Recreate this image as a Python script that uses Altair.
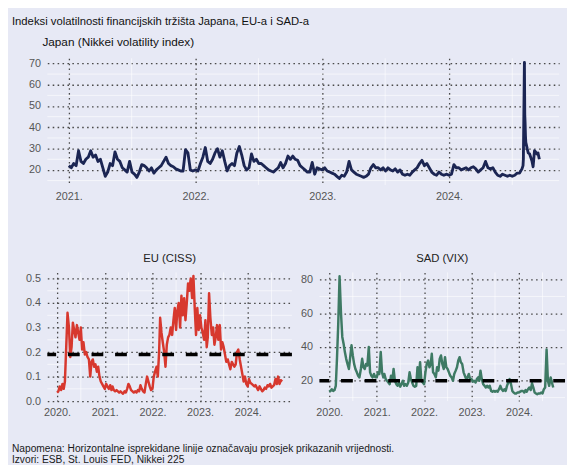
import altair as alt
import pandas as pd

BG = "#E7E9F5"
NAVY = "#1B2553"
RED = "#D7382E"
GREEN = "#3E7A64"
GRID = "#4A4A4A"
LABEL = "#555555"
FONT = "Liberation Sans"

subtitle_text = "Indeksi volatilnosti financijskih tržišta Japana, EU-a i SAD-a"
japan_title = "Japan (Nikkei volatility index)"
eu_title = "EU (CISS)"
vix_title = "SAD (VIX)"
footer_lines = [
    "Napomena: Horizontalne isprekidane linije označavaju prosjek prikazanih vrijednosti.",
    "Izvori: ESB, St. Louis FED, Nikkei 225",
]

# ---- Japan, Nikkei volatility index (weekly readings) ----
jp_2021 = [22, 21, 23, 22, 29, 24, 23, 25, 26, 29, 26, 27, 24, 25, 21, 17, 19, 23, 22, 28.5,
           25, 24, 21, 20, 19, 24, 19, 18, 16.5, 19, 22.5, 22, 21, 19.5, 21, 18.5, 20, 21, 22, 24,
           26, 23, 22, 21.5, 20.5, 20, 19.5, 19.5, 29.5, 28, 20, 19.5]
jp_2022 = [20, 19.5, 23, 26, 30.5, 24, 23, 25, 28, 30, 26, 29, 24, 19.5, 22, 23,
           22, 28, 31, 27, 22, 20, 21, 27.5, 24, 25, 23,
           23, 22, 21, 20, 19.5, 19, 20, 21, 23.5, 21, 23, 26.5, 25, 26.5, 25, 24.5, 22, 21, 20, 19,
           19, 23.5, 18, 21, 20.5]
jp_2023 = [20, 21, 19.5, 19, 18.5, 18, 17, 16, 17.5, 17, 19, 24, 20, 19, 18, 17.5, 17, 16.5, 17, 18,
           21, 22.5, 21, 21, 20, 21, 19.5, 21, 20, 19.5, 20.5, 19, 20, 18, 17.5, 18, 17.5, 19, 20, 21,
           23, 24.5, 22, 23, 21, 19, 18, 17.5, 19, 18, 17.5, 18]
jp_2024 = [17.5, 18, 22.5, 21, 21, 20, 20.5, 21, 20, 21, 21.5, 20.5, 19, 20, 21, 24, 21, 20.5, 21, 19,
           17.5, 17, 18, 17.5, 17, 17.5, 17, 17.5, 18.5, 18.5, 20.5]
jp_aug_dates = ["2024-08-01", "2024-08-02", "2024-08-05", "2024-08-06", "2024-08-07", "2024-08-08",
                "2024-08-09", "2024-08-13", "2024-08-16", "2024-08-20", "2024-08-23", "2024-08-27",
                "2024-08-30", "2024-09-03", "2024-09-06", "2024-09-10", "2024-09-13", "2024-09-17"]
jp_aug_values = [22, 25, 70.5, 46, 42, 36, 33, 30, 28, 27.5, 26, 24, 21.5, 29, 28.5, 27.5, 28, 25]

# ---- EU, CISS (readings on 1st, 11th, 21st of each month) ----
eu_2020 = [0.035, 0.04, 0.06, 0.045, 0.07, 0.05, 0.08, 0.22, 0.36, 0.30, 0.18, 0.22,
           0.32, 0.29, 0.26, 0.31, 0.28, 0.25, 0.30, 0.21, 0.24, 0.19, 0.20, 0.18,
           0.17, 0.10, 0.16, 0.17, 0.14, 0.15, 0.12, 0.14, 0.10, 0.08, 0.07, 0.06]
eu_2021 = [0.05, 0.07, 0.06, 0.05, 0.065, 0.045, 0.06, 0.045, 0.04, 0.045, 0.04, 0.035,
           0.04, 0.035, 0.03, 0.04, 0.035, 0.05, 0.07, 0.06, 0.045, 0.04, 0.035, 0.04,
           0.035, 0.045, 0.04, 0.065, 0.05, 0.04, 0.035, 0.07, 0.10, 0.08, 0.06, 0.045]
eu_2022 = [0.05, 0.10, 0.12, 0.14, 0.10, 0.20, 0.34, 0.28, 0.24, 0.20, 0.14, 0.23,
           0.26, 0.27, 0.30, 0.27, 0.33, 0.38, 0.29, 0.37, 0.40, 0.30, 0.43, 0.35,
           0.42, 0.33, 0.40, 0.48, 0.45, 0.50, 0.42, 0.51, 0.38, 0.27, 0.38, 0.29]
eu_2023 = [0.35, 0.30, 0.28, 0.25, 0.33, 0.22, 0.26, 0.44, 0.34, 0.27, 0.30, 0.23,
           0.26, 0.31, 0.25, 0.31, 0.21, 0.24, 0.22, 0.19, 0.16, 0.17, 0.15, 0.13,
           0.16, 0.15, 0.14, 0.15, 0.20, 0.21, 0.17, 0.14, 0.11, 0.08, 0.10, 0.07]
eu_2024 = [0.06, 0.09, 0.075, 0.07, 0.065, 0.06, 0.065, 0.055, 0.045, 0.06, 0.05, 0.04,
           0.045, 0.055, 0.05, 0.065, 0.06, 0.07, 0.055, 0.06, 0.065, 0.09, 0.07, 0.10,
           0.07, 0.085, 0.08]
eu_mean = 0.19

# ---- USA, VIX (readings on 1st, 11th, 21st of each month) ----
vix_2020 = [13.5, 14, 15, 14, 14.5, 17, 33, 54, 82, 60, 46, 42, 37, 33, 30, 27, 34, 41,
            35, 30, 27, 25, 23, 22, 27, 33, 28, 27, 30, 29, 40, 25, 23, 22, 24, 22]
vix_2021 = [22, 25, 24, 37, 25, 22, 24, 21, 20, 19, 18, 23, 20, 27, 20, 18, 17, 19,
            16.5, 18, 20, 17, 18, 17, 19, 25, 21, 19, 17, 16.5, 17, 28, 21, 31, 20, 19]
vix_2022 = [18, 25, 30, 32, 28, 30, 36, 25, 24, 22, 28, 26, 33, 35, 30, 27, 34, 28,
            27, 25, 23, 22, 20, 24, 26, 28, 32, 34, 31, 30, 25, 23, 21, 22, 24, 21]
vix_2023 = [21, 19.5, 20, 19, 21, 22, 20, 26, 21, 18, 17, 16, 17, 16, 17, 14, 13.5, 14,
            13.5, 14, 13.5, 15, 17, 15, 14, 15, 14, 17, 19, 21, 18, 14, 13, 12.5, 12.5, 13]
vix_2024 = [13, 13.5, 14, 14, 13, 14.5, 13.5, 15, 16, 14.5, 18.5, 16, 13, 12.5, 12, 12.5, 12.5, 13,
            12.5, 15, 16, 38.5, 20, 17, 22, 19, 16]
vix_mean = 20

# tick values and faint minor grid positions
jp_years = [2021, 2022, 2023, 2024]
jp_yticks = [20, 30, 40, 50, 60, 70]
jp_minor_dates = ["2021-07-01", "2022-07-01", "2023-07-01", "2024-07-01"]
jp_minor_values = [15, 25, 35, 45, 55, 65]
bottom_years = [2020, 2021, 2022, 2023, 2024]
bottom_minor_dates = ["2020-07-01", "2021-07-01", "2022-07-01", "2023-07-01", "2024-07-01"]
eu_yticks = [0.0, 0.1, 0.2, 0.3, 0.4, 0.5]
eu_minor_values = [0.05, 0.15, 0.25, 0.35, 0.45]
vix_yticks = [20, 40, 60, 80]
vix_minor_values = [10, 30, 50, 70]


def weekly(year, vals):
    return pd.DataFrame({"date": pd.date_range(f"{year}-01-01", periods=len(vals), freq="7D"),
                         "value": vals})


def dekadal(year, vals):
    dates = [pd.Timestamp(year, m, d) for m in range(1, 13) for d in (1, 11, 21)][:len(vals)]
    return pd.DataFrame({"date": dates, "value": vals})


jp_df = pd.concat([weekly(2021, jp_2021), weekly(2022, jp_2022), weekly(2023, jp_2023),
                   weekly(2024, jp_2024),
                   pd.DataFrame({"date": pd.to_datetime(jp_aug_dates), "value": jp_aug_values})],
                  ignore_index=True)
eu_df = pd.concat([dekadal(2020, eu_2020), dekadal(2021, eu_2021), dekadal(2022, eu_2022),
                   dekadal(2023, eu_2023), dekadal(2024, eu_2024)], ignore_index=True)
vix_df = pd.concat([dekadal(2020, vix_2020), dekadal(2021, vix_2021), dekadal(2022, vix_2022),
                    dekadal(2023, vix_2023), dekadal(2024, vix_2024)], ignore_index=True)

GRID_STYLE = dict(domain=False, ticks=False, grid=True, gridColor=GRID, gridDash=[1.6, 3.4],
                  gridWidth=1.3, labelColor=LABEL, labelFont=FONT, labelFontSize=11, title=None)


def x_enc(years, d0, d1):
    return alt.X("date:T",
                 scale=alt.Scale(domain=[alt.DateTime(year=d0[0], month=d0[1], date=d0[2]),
                                         alt.DateTime(year=d1[0], month=d1[1], date=d1[2])]),
                 axis=alt.Axis(values=[alt.DateTime(year=y, month=1, date=1) for y in years],
                               labelExpr="timeFormat(datum.value, '%Y') + '.'",
                               labelPadding=6, labelOverlap=False, minExtent=17, maxExtent=17,
                               **GRID_STYLE))


def y_enc(domain, ticks, fmt, extent):
    return alt.Y("value:Q", scale=alt.Scale(domain=domain, nice=False, zero=False),
                 axis=alt.Axis(values=ticks, format=fmt, labelPadding=7,
                               minExtent=extent, maxExtent=extent, **GRID_STYLE))


def panel(df, color, width_px, X, Y, minor_dates, minor_values, mean=None):
    vminor = alt.Chart(pd.DataFrame({"date": pd.to_datetime(minor_dates)})).mark_rule(
        color="white", strokeWidth=1, opacity=0.6).encode(x=X)
    hminor = alt.Chart(pd.DataFrame({"value": minor_values})).mark_rule(
        color="white", strokeWidth=1, opacity=0.6).encode(y=Y)
    line = alt.Chart(df).mark_line(color=color, strokeWidth=width_px, strokeJoin="round").encode(
        x=X, y=Y)
    layers = [vminor, hminor, line]
    if mean is not None:
        layers.append(alt.Chart(pd.DataFrame({"value": [mean]})).mark_rule(
            color="black", strokeWidth=3.5, strokeDash=[12, 12]).encode(y=Y))
    return alt.layer(*layers)


top = panel(jp_df, NAVY, 2.9,
            x_enc(jp_years, (2020, 10, 31), (2024, 11, 13)),
            y_enc([12.94, 72.44], jp_yticks, "d", 36),
            jp_minor_dates, jp_minor_values).properties(
    width=521, height=129,
    title=alt.TitleParams(japan_title, anchor="start", frame="group", dx=-5, offset=9,
                          fontSize=12, fontWeight="normal", color="#111111", font=FONT))

eu = panel(eu_df, RED, 2.5,
           x_enc(bottom_years, (2019, 10, 18), (2024, 12, 5)),
           y_enc([0, 0.525], eu_yticks, ".1f", 36),
           bottom_minor_dates, eu_minor_values, mean=eu_mean).properties(
    width=249, height=131,
    title=alt.TitleParams(eu_title, anchor="middle", frame="group", offset=8,
                          fontSize=11.5, fontWeight="normal", color="#222222", font=FONT))

vix = panel(vix_df, GREEN, 2.5,
            x_enc(bottom_years, (2019, 10, 18), (2024, 12, 21)),
            y_enc([7.94, 84.25], vix_yticks, "d", 20),
            bottom_minor_dates, vix_minor_values, mean=vix_mean).properties(
    width=250, height=131,
    title=alt.TitleParams(vix_title, anchor="middle", frame="group", offset=8,
                          fontSize=11.5, fontWeight="normal", color="#222222", font=FONT))

footer_df = pd.DataFrame({"line": footer_lines, "row": [0, 1]})
footer = alt.Chart(footer_df).mark_text(align="left", baseline="top", fontSize=10.4, font=FONT,
                                        color="#1A1A1A").encode(
    x=alt.value(-36),
    y=alt.Y("row:Q", axis=None, scale=alt.Scale(domain=[0, 1], range=[0, 11])),
    text="line:N").properties(width=360, height=20)

inner = alt.vconcat(top, alt.hconcat(eu, vix, spacing=6), spacing=52)
chart = alt.vconcat(inner, footer, spacing=27).properties(
    title=alt.TitleParams(subtitle_text, anchor="start", offset=9, fontSize=11.5,
                          fontWeight="normal", color="#111111", font=FONT),
    padding={"left": 4, "top": 3, "right": 0, "bottom": 0},
    background=BG,
).configure_view(stroke=None)

chart.save("out.html", embed_options={"renderer": "svg", "actions": False})
